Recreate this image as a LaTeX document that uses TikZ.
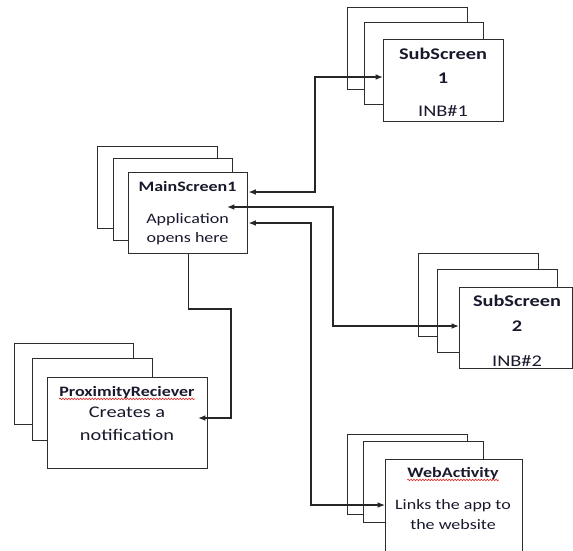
\documentclass[tikz,border=0pt]{standalone}
\usepackage{fontspec}
\setmainfont[FakeStretch=1.25]{Carlito}
\usetikzlibrary{arrows.meta,decorations.pathmorphing}
\definecolor{screenline}{RGB}{45,45,45}
\definecolor{screentext}{RGB}{25,25,45}
\definecolor{spellred}{RGB}{225,40,40}
\tikzset{
  screen box/.style={
    draw=screenline,
    fill=white,
    line width=1.1pt,
    inner sep=0pt,
    anchor=north west,
  },
  screen label/.style={
    inner sep=0pt,
    anchor=base,
    text=screentext,
    font=\fontsize{10.8}{13}\selectfont,
  },
  screen title/.style={
    screen label,
    font=\fontsize{10.8}{13}\selectfont\bfseries,
  },
  big label/.style={
    screen label,
    font=\fontsize{12.2}{14}\selectfont,
  },
  big title/.style={
    screen label,
    font=\fontsize{12.2}{14}\selectfont\bfseries,
  },
  screen link/.style={
    line width=0.9pt,
    draw=black!85,
  },
  two way/.style={
    screen link,
    {Latex[length=5.5pt,width=4.2pt]}-{Latex[length=5.5pt,width=4.2pt]},
  },
  one way/.style={
    screen link,
    -{Latex[length=5.5pt,width=4.2pt]},
  },
  spell mark/.style={
    draw=spellred,
    line width=0.45pt,
    decorate,
    decoration={snake, amplitude=0.6pt, segment length=2.2pt},
  },
}

\begin{document}
\begin{tikzpicture}[x=0.75pt,y=-0.75pt]
  \useasboundingbox (0,0) rectangle (573,550);
  \clip (0,0) rectangle (573,550);
  \fill[white] (0,0) rectangle (573,550);

  % SubScreen 1 stack
  \node[screen box, minimum width=90pt, minimum height=61.5pt] (sub1back) at (347,7) {};
  \node[screen box, minimum width=89.25pt, minimum height=61.5pt] (sub1mid) at (364,22) {};
  \node[screen box, minimum width=90pt, minimum height=61.5pt] (sub1) at (383,39) {};
  \node[big title] (sub1name) at (443,59) {SubScreen};
  \node[big title] (sub1num) at (443,83) {1};
  \node[big label] (sub1inb) at (443,116) {INB\#1};

  % MainScreen stack
  \node[screen box, minimum width=90pt, minimum height=61.5pt] (mainback) at (97,146) {};
  \node[screen box, minimum width=89.25pt, minimum height=61.5pt] (mainmid) at (113,158) {};
  \node[screen box, minimum width=89.25pt, minimum height=60.75pt] (main) at (128,172) {};
  \node[screen title] (mainname) at (187.5,191.5) {MainScreen1};
  \node[screen label] (mainline1) at (187.5,223) {Application};
  \node[screen label] (mainline2) at (187.5,242.5) {opens here};

  % SubScreen 2 stack
  \node[screen box, minimum width=90pt, minimum height=62.25pt] (sub2back) at (418,253) {};
  \node[screen box, minimum width=90pt, minimum height=62.25pt] (sub2mid) at (437,269) {};
  \node[screen box, minimum width=84.75pt, minimum height=60.75pt] (sub2) at (459,287) {};
  \node[big title] (sub2name) at (517,306.5) {SubScreen};
  \node[big title] (sub2num) at (517,331.5) {2};
  \node[big label] (sub2inb) at (517,366.5) {INB\#2};

  % ProximityReciever stack
  \node[screen box, minimum width=89.25pt, minimum height=60.75pt] (proxback) at (14,343) {};
  \node[screen box, minimum width=90pt, minimum height=61.5pt] (proxmid) at (32,358) {};
  \node[screen box, minimum width=120pt, minimum height=68.25pt] (prox) at (47,377) {};
  \node[screen title] (proxname) at (127,396) {ProximityReciever};
  \node[big label] (proxline1) at (127,417) {Creates a};
  \node[big label] (proxline2) at (127,440.5) {notification};
  \draw[spell mark] ([yshift=-2.2pt]proxname.base west) -- ([yshift=-2.2pt]proxname.base east);

  % WebActivity stack
  \node[screen box, minimum width=90pt, minimum height=60pt] (webback) at (347,434) {};
  \node[screen box, minimum width=90pt, minimum height=60.75pt] (webmid) at (363,441) {};
  \node[screen box, minimum width=102.75pt, minimum height=75pt] (web) at (385,459) {};
  \node[screen title] (webname) at (453,477) {WebActivity};
  \node[screen label] (webline1) at (453,509) {Links the app to};
  \node[screen label] (webline2) at (453,529) {the website};
  \draw[spell mark] ([yshift=-2.2pt]webname.base west) -- ([yshift=-2.2pt]webname.base east);

  % links between the screens
  \coordinate (mainin) at (227,207);
  \coordinate (proxin) at (198,418);
  \draw[two way] (main.east |- 0,192) -| (315,77) -- (sub1.west |- 0,77);
  \draw[two way] (mainin) -| (333,326) -- (sub2.west |- 0,326);
  \draw[two way] (main.east |- 0,223) -| (311,505) -- (web.west |- 0,505);
  \draw[one way] (main.south) |- (231,309) |- (proxin);
\end{tikzpicture}
\end{document}
